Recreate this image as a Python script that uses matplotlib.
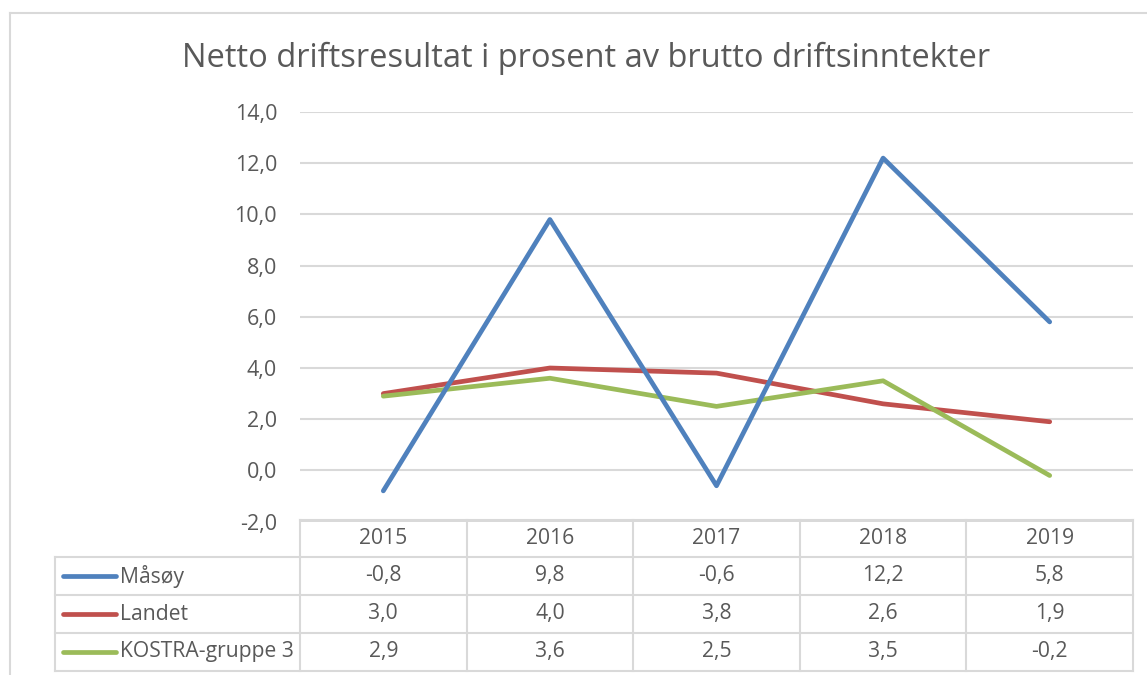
import matplotlib
matplotlib.use("Agg")
import matplotlib.pyplot as plt
from matplotlib.lines import Line2D

years = ["2015", "2016", "2017", "2018", "2019"]
series_names = ["Måsøy", "Landet", "KOSTRA-gruppe 3"]
masoy = [-0.8, 9.8, -0.6, 12.2, 5.8]
landet = [3.0, 4.0, 3.8, 2.6, 1.9]
kostra = [2.9, 3.6, 2.5, 3.5, -0.2]
yticks = [-2, 0, 2, 4, 6, 8, 10, 12, 14]
title = "Netto driftsresultat i prosent av brutto driftsinntekter"

colors = ["#4F81BD", "#C0504D", "#9BBB59"]
values = [masoy, landet, kostra]
text_color = "#595959"
grid_color = "#D9D9D9"
FONT = "Open Sans"

W, H = 1147, 675
fig = plt.figure(figsize=(W / 100, H / 100), dpi=100)
fig.patch.set_facecolor("white")

def fx(x):
    return x / W

def fy(y):
    return 1 - y / H

def hline(x0, x1, y, color=grid_color, lw=1.5):
    fig.add_artist(Line2D([fx(x0), fx(x1)], [fy(y), fy(y)], color=color, lw=lw,
                          transform=fig.transFigure))

def vline(x, y0, y1, color=grid_color, lw=1.5):
    fig.add_artist(Line2D([fx(x), fx(x)], [fy(y0), fy(y1)], color=color, lw=lw,
                          transform=fig.transFigure))

# outer chart border
hline(10, W, 13)
vline(10, 13, H)

# plot area
left, right, top, bottom = 300, 1133, 112, 521.6
ax = fig.add_axes([fx(left), fy(bottom), fx(right) - fx(left), fy(top) - fy(bottom)])
ax.set_xlim(-0.5, len(years) - 0.5)
ax.set_ylim(-2, 14)
ax.set_yticks(yticks)
ax.set_yticklabels([f"{v:.1f}".replace(".", ",") for v in yticks],
                   fontsize=15.5, color=text_color, family=FONT)
ax.tick_params(axis="y", length=0, pad=16.5)
ax.set_xticks([])
for s in ax.spines.values():
    s.set_visible(False)
ax.grid(axis="y", color=grid_color, lw=1.5)
ax.set_axisbelow(True)
ax.patch.set_alpha(0)

xs = list(range(len(years)))
zorders = [5, 3, 4]
for vals, c, z in zip(values, colors, zorders):
    ax.plot(xs, vals, color=c, lw=3.4, solid_capstyle="round",
            solid_joinstyle="round", zorder=z)

# title
fig.text(fx(586), fy(58), title, ha="center", va="center", fontsize=23.5,
         color=text_color, family=FONT)

# data table
col_edges = [300, 466.6, 633.2, 799.8, 966.4, 1133]
row_edges = [520, 557, 595, 633, 671]
leg_left = 55
hline(300, 1133, row_edges[0])
for y in row_edges[1:]:
    hline(leg_left, 1133, y)
for i, x in enumerate(col_edges):
    vline(x, row_edges[0], row_edges[-1])
vline(leg_left, row_edges[1], row_edges[-1])

fs_tab = 15.2
for i, yr in enumerate(years):
    cx = (col_edges[i] + col_edges[i + 1]) / 2
    cy = (row_edges[0] + row_edges[1]) / 2
    fig.text(fx(cx), fy(cy), yr, ha="center", va="center", fontsize=fs_tab,
             color=text_color, family=FONT)

for r, (name, vals, c) in enumerate(zip(series_names, values, colors)):
    cy = (row_edges[r + 1] + row_edges[r + 2]) / 2
    fig.add_artist(Line2D([fx(63), fx(116)], [fy(cy), fy(cy)], color=c, lw=3.4,
                          solid_capstyle="round", transform=fig.transFigure))
    fig.text(fx(120), fy(cy), name, ha="left", va="center", fontsize=fs_tab,
             color=text_color, family=FONT)
    for i, v in enumerate(vals):
        cx = (col_edges[i] + col_edges[i + 1]) / 2
        fig.text(fx(cx), fy(cy), f"{v:.1f}".replace(".", ","), ha="center",
                 va="center", fontsize=fs_tab, color=text_color, family=FONT)

fig.savefig("out.png", dpi=100, facecolor="white")
